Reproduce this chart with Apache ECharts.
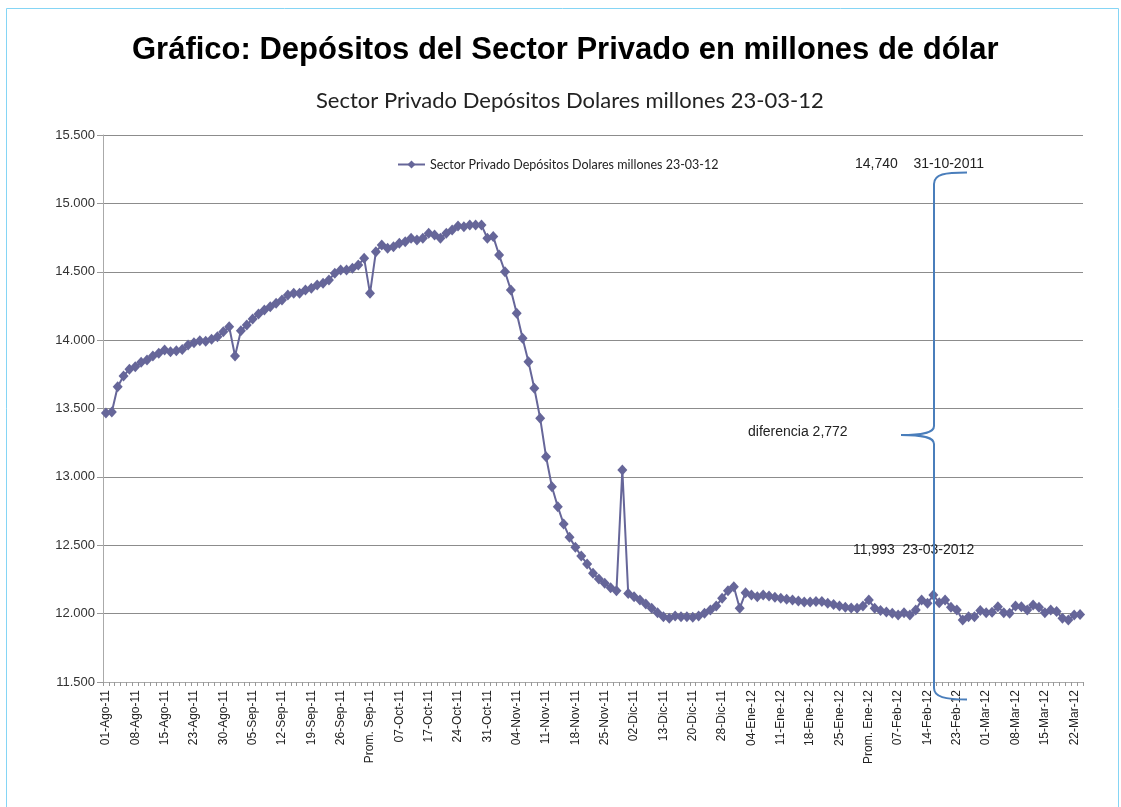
<!DOCTYPE html>
<html>
<head>
<meta charset="utf-8">
<script src="https://cdn.jsdelivr.net/npm/echarts@6/dist/echarts.min.js"></script>
<style>
  html, body { margin: 0; padding: 0; background: #ffffff; }
  #chart { width: 1121px; height: 807px; }
</style>
</head>
<body>
<div id="chart"></div>
<script>
// ---- Categories (business days + monthly averages) ----
var catAgo = ['01-Ago-11','02-Ago-11','03-Ago-11','04-Ago-11','05-Ago-11','08-Ago-11','09-Ago-11','10-Ago-11','11-Ago-11','12-Ago-11','15-Ago-11','16-Ago-11','17-Ago-11','18-Ago-11','19-Ago-11','23-Ago-11','24-Ago-11','25-Ago-11','26-Ago-11','29-Ago-11','30-Ago-11','31-Ago-11','Prom. Ago-11'];
var catSep = ['01-Sep-11','02-Sep-11','05-Sep-11','06-Sep-11','07-Sep-11','08-Sep-11','09-Sep-11','12-Sep-11','13-Sep-11','14-Sep-11','15-Sep-11','16-Sep-11','19-Sep-11','20-Sep-11','21-Sep-11','22-Sep-11','23-Sep-11','26-Sep-11','27-Sep-11','28-Sep-11','29-Sep-11','30-Sep-11','Prom. Sep-11'];
var catOct = ['03-Oct-11','04-Oct-11','05-Oct-11','06-Oct-11','07-Oct-11','11-Oct-11','12-Oct-11','13-Oct-11','14-Oct-11','17-Oct-11','18-Oct-11','19-Oct-11','20-Oct-11','21-Oct-11','24-Oct-11','25-Oct-11','26-Oct-11','27-Oct-11','28-Oct-11','31-Oct-11','Prom. Oct-11'];
var catNov = ['01-Nov-11','02-Nov-11','03-Nov-11','04-Nov-11','07-Nov-11','08-Nov-11','09-Nov-11','10-Nov-11','11-Nov-11','14-Nov-11','15-Nov-11','16-Nov-11','17-Nov-11','18-Nov-11','21-Nov-11','22-Nov-11','23-Nov-11','24-Nov-11','25-Nov-11','29-Nov-11','30-Nov-11','Prom. Nov-11'];
var catDic = ['01-Dic-11','02-Dic-11','05-Dic-11','06-Dic-11','07-Dic-11','12-Dic-11','13-Dic-11','14-Dic-11','15-Dic-11','16-Dic-11','19-Dic-11','20-Dic-11','21-Dic-11','22-Dic-11','23-Dic-11','27-Dic-11','28-Dic-11','29-Dic-11','30-Dic-11','Prom. Dic-11'];
var catEne = ['03-Ene-12','04-Ene-12','05-Ene-12','06-Ene-12','09-Ene-12','10-Ene-12','11-Ene-12','12-Ene-12','13-Ene-12','16-Ene-12','17-Ene-12','18-Ene-12','19-Ene-12','20-Ene-12','23-Ene-12','24-Ene-12','25-Ene-12','26-Ene-12','27-Ene-12','30-Ene-12','31-Ene-12','Prom. Ene-12'];
var catFeb = ['01-Feb-12','02-Feb-12','03-Feb-12','06-Feb-12','07-Feb-12','08-Feb-12','09-Feb-12','10-Feb-12','13-Feb-12','14-Feb-12','15-Feb-12','16-Feb-12','17-Feb-12','22-Feb-12','23-Feb-12','24-Feb-12','27-Feb-12','28-Feb-12','29-Feb-12'];
var catMar = ['01-Mar-12','02-Mar-12','05-Mar-12','06-Mar-12','07-Mar-12','08-Mar-12','09-Mar-12','12-Mar-12','13-Mar-12','14-Mar-12','15-Mar-12','16-Mar-12','19-Mar-12','20-Mar-12','21-Mar-12','22-Mar-12','23-Mar-12'];

// ---- Values (millones de dólares) ----
var valAgo = [13467,13474,13659,13738,13787,13806,13838,13855,13884,13904,13928,13915,13923,13932,13964,13981,13996,13991,14006,14025,14062,14098,13884];
var valSep = [14069,14111,14155,14191,14220,14244,14269,14293,14330,14342,14342,14367,14379,14403,14416,14440,14489,14513,14513,14525,14549,14598,14342];
var valOct = [14646,14696,14671,14683,14708,14720,14745,14732,14745,14781,14769,14745,14781,14805,14834,14829,14841,14841,14841,14745,14757];
var valNov = [14622,14500,14367,14196,14013,13842,13648,13428,13148,12928,12782,12655,12558,12485,12421,12363,12295,12253,12222,12190,12168,13050];
var valDic = [12148,12124,12100,12070,12039,12007,11978,11966,11983,11978,11978,11973,11983,12002,12027,12056,12112,12168,12197,12039];
var valEne = [12153,12136,12124,12136,12129,12119,12112,12105,12100,12092,12085,12085,12088,12088,12075,12066,12056,12046,12041,12039,12056,12100];
var valFeb = [12039,12022,12012,12002,11990,12007,11990,12027,12100,12075,12136,12080,12100,12046,12027,11953,11978,11978,12022];
var valMar = [12007,12010,12051,12007,12002,12056,12051,12027,12063,12046,12007,12027,12015,11966,11953,11990,11993];

var yTicks = { min: 11500, max: 15500, step: 500 };
var seriesName = 'Sector Privado Depósitos Dolares millones 23-03-12';
var titleText = 'Gráfico: Depósitos del Sector Privado en millones de dólar';
var notes = { top: '14,740    31-10-2011', mid: 'diferencia 2,772', bottom: '11,993  23-03-2012' };

var categories = [].concat(catAgo, catSep, catOct, catNov, catDic, catEne, catFeb, catMar);
var values = [].concat(valAgo, valSep, valOct, valNov, valDic, valEne, valFeb, valMar);

var chart = echarts.init(document.getElementById('chart'), null, { renderer: 'canvas' });
var color = '#666699';
var braceColor = '#4a7ebb';
var braceStyle = { fill: 'none', stroke: braceColor, lineWidth: 2 };

var option = {
  animation: false,
  backgroundColor: '#ffffff',
  title: [
    { text: titleText, left: 127, top: 30,
      textStyle: { fontFamily: 'Liberation Sans', fontWeight: 'bold', fontSize: 31, color: '#000000' } },
    { text: seriesName, left: 311, top: 85,
      textStyle: { fontFamily: 'Lato', fontWeight: 'normal', fontSize: 22, color: '#222222' } }
  ],
  legend: {
    data: [seriesName], left: 392, top: 153, itemWidth: 27, itemHeight: 10, itemGap: 4,
    textStyle: { fontFamily: 'Lato', fontSize: 12.5, color: '#222222' }
  },
  grid: { left: 103, right: 38, top: 135, bottom: 125, containLabel: false },
  xAxis: {
    type: 'category', data: categories, boundaryGap: true,
    axisLine: { lineStyle: { color: '#aaaaaa', width: 1 } },
    axisTick: { show: true, interval: 0, length: 4, lineStyle: { color: '#999999' } },
    axisLabel: { interval: 4, rotate: 90, margin: 8, fontFamily: 'Liberation Sans', fontSize: 12, color: '#222222' },
    splitLine: { show: false }
  },
  yAxis: {
    type: 'value', min: yTicks.min, max: yTicks.max, interval: yTicks.step,
    axisLine: { show: true, lineStyle: { color: '#aaaaaa', width: 1 } },
    axisTick: { show: true, length: 6, lineStyle: { color: '#999999' } },
    axisLabel: {
      margin: 8, fontFamily: 'Liberation Sans', fontSize: 13, color: '#333333',
      formatter: function (v) { return String(v).replace(/\B(?=(\d{3})+(?!\d))/g, '.'); }
    },
    splitLine: { show: true, lineStyle: { color: '#8c8c8c', width: 1 } }
  },
  series: [{
    name: seriesName, type: 'line', data: values,
    symbol: 'diamond', symbolSize: [10, 11], showAllSymbol: true,
    itemStyle: { color: color },
    lineStyle: { color: color, width: 2 }
  }],
  graphic: [
    { type: 'rect', shape: { x: 6.5, y: 8.5, width: 1112, height: 900 }, silent: true,
      style: { fill: 'none', stroke: '#85d5f5', lineWidth: 1 } },
    { type: 'text', x: 855, y: 164, silent: true,
      style: { text: notes.top, fontFamily: 'Liberation Sans', fontSize: 14, fill: '#222222', textVerticalAlign: 'middle' } },
    { type: 'text', x: 748, y: 432, silent: true,
      style: { text: notes.mid, fontFamily: 'Liberation Sans', fontSize: 14, fill: '#222222', textVerticalAlign: 'middle' } },
    { type: 'text', x: 853, y: 550, silent: true, z: 10,
      style: { text: notes.bottom, fontFamily: 'Liberation Sans', fontSize: 14, fill: '#222222', textVerticalAlign: 'middle' } },
    { type: 'bezierCurve', silent: true, z: 20,
      shape: { x1: 967, y1: 172.5, cpx1: 945, cpy1: 172.5, cpx2: 934, cpy2: 174, x2: 934, y2: 184 }, style: braceStyle },
    { type: 'line', silent: true, z: 20, shape: { x1: 934, y1: 184, x2: 934, y2: 426 }, style: braceStyle },
    { type: 'bezierCurve', silent: true, z: 20,
      shape: { x1: 934, y1: 426, cpx1: 934, cpy1: 432, cpx2: 926, cpy2: 435, x2: 901, y2: 435 }, style: braceStyle },
    { type: 'bezierCurve', silent: true, z: 20,
      shape: { x1: 901, y1: 435, cpx1: 926, cpy1: 435, cpx2: 934, cpy2: 438, x2: 934, y2: 444 }, style: braceStyle },
    { type: 'line', silent: true, z: 20, shape: { x1: 934, y1: 444, x2: 934, y2: 688 }, style: braceStyle },
    { type: 'bezierCurve', silent: true, z: 20,
      shape: { x1: 934, y1: 688, cpx1: 934, cpy1: 697, cpx2: 945, cpy2: 699.5, x2: 967, y2: 699.5 }, style: braceStyle }
  ]
};
chart.setOption(option);
</script>
</body>
</html>
